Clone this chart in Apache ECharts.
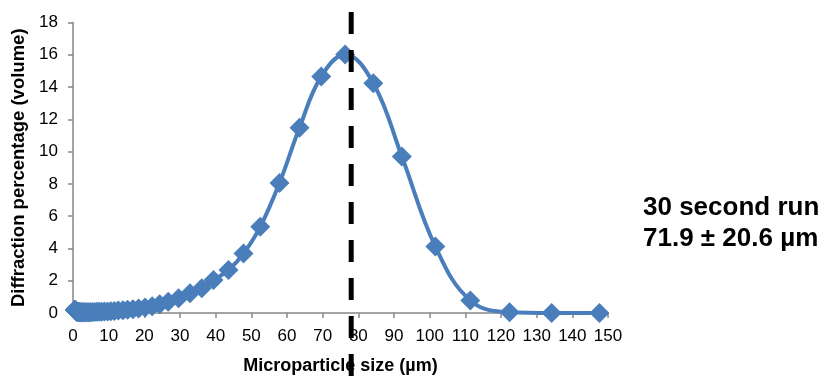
<!DOCTYPE html>
<html><head><meta charset="utf-8">
<script src="https://cdn.jsdelivr.net/npm/echarts@6/dist/echarts.min.js"></script>
<style>html,body{margin:0;padding:0;background:#fff}#c{width:826px;height:376px}</style>
</head><body><div id="c"></div>
<script>
// Microparticle size bins (µm)
const sizes = [0.5, 0.55, 0.6, 0.66, 0.72, 0.79, 0.86, 0.95, 1.04,
  1.14, 1.25, 1.37, 1.5, 1.65, 1.8,
  2.0, 2.2, 2.4, 2.6, 2.9, 3.2, 3.5, 3.8,
  4.2, 4.6, 5.0, 5.5, 6.1, 6.7, 7.3, 8.0, 8.8, 9.7,
  10.6, 11.6, 12.7, 14.0, 15.3, 16.8, 18.4, 20.2, 22.2, 24.3,
  26.7, 29.6, 32.8, 36.1, 39.4, 43.6, 47.8, 52.5, 57.9, 63.5,
  69.6, 76.3, 84.2, 92.2, 101.6, 111.4, 122.4, 134.2, 147.6];
// Diffraction percentage (volume)
const volumes = [0.2, 0.2, 0.19, 0.18, 0.16, 0.14, 0.12, 0.1, 0.09,
  0.08, 0.07, 0.07, 0.06, 0.06, 0.06,
  0.05, 0.05, 0.05, 0.05, 0.05, 0.05, 0.05, 0.05,
  0.05, 0.05, 0.05, 0.06, 0.06, 0.07, 0.07, 0.08, 0.09, 0.1,
  0.11, 0.13, 0.15, 0.17, 0.2, 0.23, 0.28, 0.34, 0.42, 0.54,
  0.7, 0.91, 1.22, 1.53, 2.04, 2.66, 3.69, 5.34, 8.06, 11.48,
  14.66, 16.02, 14.24, 9.7, 4.12, 0.78, 0.05, 0.0, 0.0];
const meanMarker = 78.0;      // dashed vertical line position (µm)
const xAxisTitle = 'Microparticle size (µm)';
const yAxisTitle = 'Diffraction percentage (volume)';
const noteLines = ['30 second run', '71.9 ± 20.6 µm'];

const FONT = 'Arial, "Liberation Sans", sans-serif';
const AXIS_GRAY = '#868686';
const BLUE = '#4A7EBB';

const chart = echarts.init(document.getElementById('c'), null, {renderer: 'canvas'});
chart.setOption({
  animation: false,
  backgroundColor: '#fff',
  grid: {left: 73, right: 218, top: 22.5, bottom: 63, containLabel: false, outerBoundsMode: 'none'},
  xAxis: {
    type: 'value', min: 0, max: 150, interval: 10,
    name: xAxisTitle, nameLocation: 'middle', nameGap: 44,
    nameTextStyle: {fontFamily: FONT, fontWeight: 'bold', fontSize: 18, color: '#000'},
    axisLine: {show: true, lineStyle: {color: AXIS_GRAY, width: 1.5}},
    axisTick: {show: true, length: 5, lineStyle: {color: AXIS_GRAY, width: 1.5}},
    axisLabel: {fontFamily: FONT, fontSize: 17, color: '#000', margin: 15},
    splitLine: {show: false}
  },
  yAxis: {
    type: 'value', min: 0, max: 18, interval: 2,
    name: yAxisTitle, nameLocation: 'middle', nameGap: 43, nameRotate: 90,
    nameTextStyle: {fontFamily: FONT, fontWeight: 'bold', fontSize: 18.5, color: '#000'},
    axisLine: {show: true, lineStyle: {color: AXIS_GRAY, width: 1.5}},
    axisTick: {show: true, length: 5, lineStyle: {color: AXIS_GRAY, width: 1.5}},
    axisLabel: {fontFamily: FONT, fontSize: 17, color: '#000', margin: 15},
    splitLine: {show: false}
  },
  series: [{
    type: 'line',
    data: sizes.map((s, i) => [s, volumes[i]]),
    smooth: 0.4,
    clip: false,
    symbol: 'diamond',
    symbolSize: 20,
    itemStyle: {color: BLUE},
    lineStyle: {color: BLUE, width: 4},
    z: 3
  }]
});

const px = chart.convertToPixel({xAxisIndex: 0}, meanMarker);
chart.setOption({
  graphic: [
    {type: 'line', z: 100,
     shape: {x1: px, y1: 12, x2: px, y2: 376},
     style: {stroke: '#000', lineWidth: 5, lineDash: [22, 16]}},
    {type: 'text', z: 100,
     style: {x: 643, y: 208, text: noteLines[0], fill: '#000',
       font: 'bold 26px ' + FONT, verticalAlign: 'middle', align: 'left'}},
    {type: 'text', z: 100,
     style: {x: 643, y: 239, text: noteLines[1], fill: '#000',
       font: 'bold 26px ' + FONT, verticalAlign: 'middle', align: 'left'}}
  ]
});
</script>
</body></html>
